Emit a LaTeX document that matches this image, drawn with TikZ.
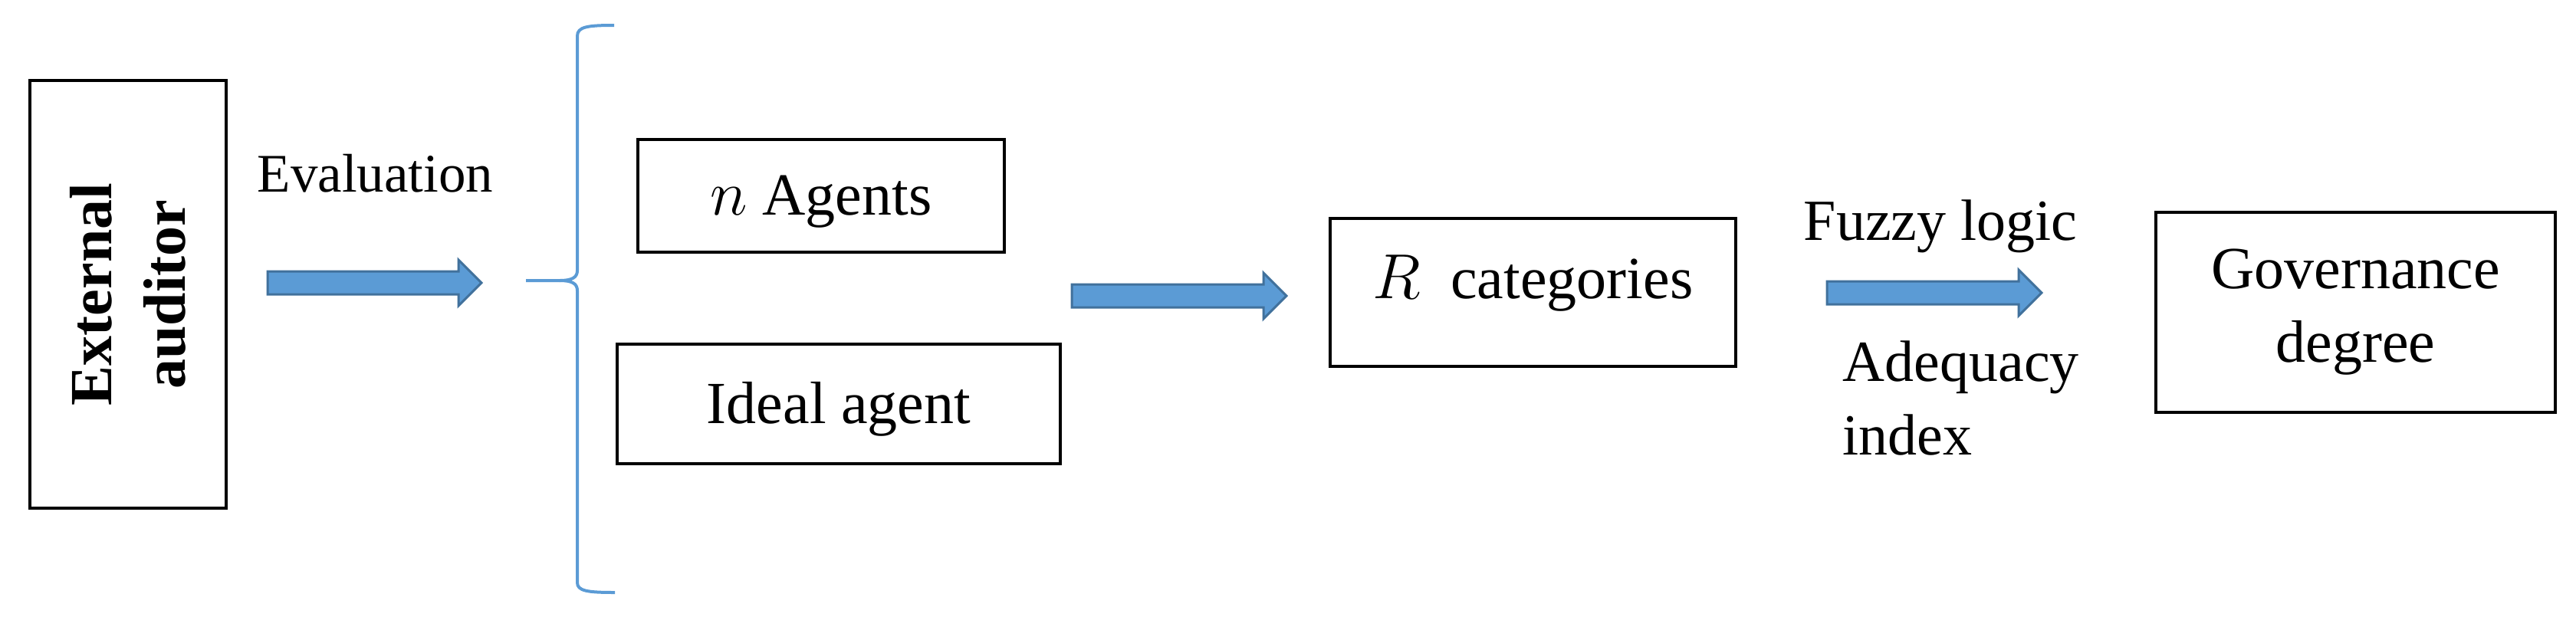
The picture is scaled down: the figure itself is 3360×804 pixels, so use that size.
\documentclass[tikz,border=0pt]{standalone}
\usepackage{fontspec}
\setmainfont{Liberation Serif}
\usetikzlibrary{calc}
\definecolor{arrfill}{HTML}{5B9BD5}
\definecolor{arredge}{HTML}{41719C}
\definecolor{bracecol}{HTML}{5B9BD5}
\newcommand{\blockarr}[2]{%
  \filldraw[barrow] let \p1=(#1), \p2=(#2) in
   (\x1,\y1+3.75pt) -- (\x2-7.5pt,\y1+3.75pt) -- (\x2-7.5pt,\y1+7.5pt) -- (\x2,\y1)
   -- (\x2-7.5pt,\y1-7.5pt) -- (\x2-7.5pt,\y1-3.75pt) -- (\x1,\y1-3.75pt) -- cycle;}
\begin{document}
\begin{tikzpicture}[x=0.25pt,y=-0.25pt,
  box/.style={draw=black, line width=1pt, inner sep=0pt, align=center,
              font=\fontsize{19.5}{24}\selectfont},
  lbl/.style={inner sep=0pt, align=left, font=\fontsize{19}{24}\selectfont},
  barrow/.style={fill=arrfill, draw=arredge, line width=0.75pt, line join=miter},
  bracestyle/.style={draw=bracecol, line width=1pt}]
\useasboundingbox (0,0) rectangle (3360,804);

% boxes
\node[box, rotate=90, minimum width=139.5pt, minimum height=64pt,
      font=\fontsize{19.5}{24}\selectfont\bfseries] (ext) at (167,384) {External\\auditor};
\node[box, minimum width=119.5pt, minimum height=36.75pt, text height=12.5pt, text depth=0pt]
      (nag) at (1071,255.5) {$n$ Agents};
\node[box, minimum width=144.5pt, minimum height=39pt, text height=12.5pt, text depth=0pt]
      (ideal) at (1094,527) {Ideal agent};
\node[box, minimum width=132.25pt, minimum height=48.25pt, text height=12.5pt, text depth=8.75pt]
      (rcat) at (1999.5,381.5) {$R$\ \ categories};
\node[box, minimum width=130.25pt, minimum height=65.25pt]
      (gov) at (3072.5,407.5) {Governance\\degree};

% labels
\node[lbl, anchor=base west, font=\fontsize{17.75}{22}\selectfont] (eval) at (335,250) {Evaluation};
\node[lbl, anchor=base west] (fuzzy) at (2352,313) {Fuzzy logic};
\node[lbl, anchor=west] (adeq) at (2403,519) {Adequacy\\index};

% block arrows
\coordinate (a1s) at (349,369);  \coordinate (a1e) at (628,369);
\coordinate (a2s) at (1398,386); \coordinate (a2e) at (1678,386);
\coordinate (a3s) at (2383,382); \coordinate (a3e) at (2663,382);
\blockarr{a1s}{a1e}
\blockarr{a2s}{a2e}
\blockarr{a3s}{a3e}

% brace
\draw[bracestyle] (801,33) .. controls (766,33) and (753,35) .. (753,47) -- (753,353)
   .. controls (753,362) and (746,366) .. (730,366) -- (686,366);
\draw[bracestyle] (730,366) .. controls (746,366) and (753,370) .. (753,379) -- (753,760)
   .. controls (753,771) and (766,773) .. (802,773);
\end{tikzpicture}
\end{document}
